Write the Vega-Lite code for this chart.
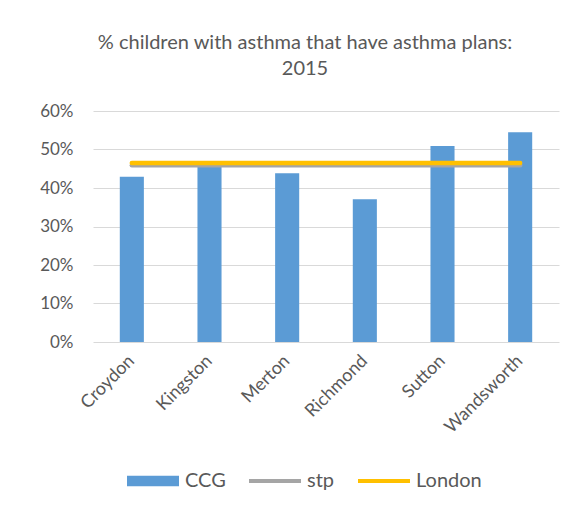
{
  "$schema": "https://vega.github.io/schema/vega-lite/v6.json",
  "width": 466,
  "height": 231,
  "autosize": {"type": "none"},
  "padding": {"left": 93, "top": 111, "right": 24, "bottom": 174},
  "background": "white",
  "config": {
    "font": "Lato",
    "view": {"stroke": null},
    "title": {"color": "#595959", "font": "Lato", "fontWeight": "normal"}
  },
  "title": {
    "text": ["% children with asthma that have asthma plans:", "2015"],
    "fontSize": 20,
    "lineHeight": 26,
    "anchor": "middle",
    "frame": "group",
    "dx": -21,
    "offset": 23
  },
  "data": {
    "values": [
      {"borough": "Croydon", "series": "CCG", "value": 0.429},
      {"borough": "Kingston", "series": "CCG", "value": 0.457},
      {"borough": "Merton", "series": "CCG", "value": 0.438},
      {"borough": "Richmond", "series": "CCG", "value": 0.371},
      {"borough": "Sutton", "series": "CCG", "value": 0.509},
      {"borough": "Wandsworth", "series": "CCG", "value": 0.545},
      {"borough": "Croydon", "series": "stp", "value": 0.459},
      {"borough": "Kingston", "series": "stp", "value": 0.459},
      {"borough": "Merton", "series": "stp", "value": 0.459},
      {"borough": "Richmond", "series": "stp", "value": 0.459},
      {"borough": "Sutton", "series": "stp", "value": 0.459},
      {"borough": "Wandsworth", "series": "stp", "value": 0.459},
      {"borough": "Croydon", "series": "London", "value": 0.465},
      {"borough": "Kingston", "series": "London", "value": 0.465},
      {"borough": "Merton", "series": "London", "value": 0.465},
      {"borough": "Richmond", "series": "London", "value": 0.465},
      {"borough": "Sutton", "series": "London", "value": 0.465},
      {"borough": "Wandsworth", "series": "London", "value": 0.465}
    ]
  },
  "encoding": {
    "x": {
      "field": "borough",
      "type": "nominal",
      "sort": null,
      "scale": {"paddingInner": 0.69, "paddingOuter": 0.345},
      "axis": {
        "title": null,
        "labelAngle": -45,
        "labelAlign": "right",
        "labelBaseline": "middle",
        "labelFontSize": 18,
        "labelColor": "#595959",
        "labelPadding": 16,
        "ticks": false,
        "domain": false,
        "grid": false
      }
    },
    "y": {
      "field": "value",
      "type": "quantitative",
      "scale": {"domain": [0, 0.6]},
      "axis": {
        "title": null,
        "format": ".0%",
        "values": [0, 0.1, 0.2, 0.3, 0.4, 0.5, 0.6],
        "labelFontSize": 17,
        "labelColor": "#595959",
        "labelPadding": 20,
        "ticks": false,
        "domain": false,
        "grid": true,
        "gridColor": "#D9D9D9",
        "gridWidth": 1
      }
    },
    "color": {
      "field": "series",
      "type": "nominal",
      "scale": {"domain": ["CCG", "stp", "London"], "range": ["#5B9BD5", "#A5A5A5", "#FFC000"]},
      "legend": {
        "title": null,
        "orient": "none",
        "direction": "horizontal",
        "legendX": 34,
        "legendY": 344,
        "labelFontSize": 20,
        "labelColor": "#595959",
        "labelOffset": 6,
        "columnPadding": 23,
        "symbolSize": 2704,
        "encode": {
          "symbols": {
            "update": {
              "shape": {"signal": "datum.value === 'CCG' ? 'M-1,-0.2H1V0.2H-1Z' : 'M-1,-0.075H1V0.075H-1Z'"},
              "fill": {"scale": "color", "field": "value"},
              "strokeWidth": {"value": 0},
              "opacity": {"value": 1}
            }
          }
        }
      }
    }
  },
  "layer": [
    {
      "transform": [{"filter": "datum.series === 'CCG'"}],
      "mark": {"type": "bar"}
    },
    {
      "transform": [{"filter": "datum.series !== 'CCG'"}],
      "mark": {"type": "line", "strokeWidth": 4.5, "strokeCap": "round"}
    }
  ]
}
